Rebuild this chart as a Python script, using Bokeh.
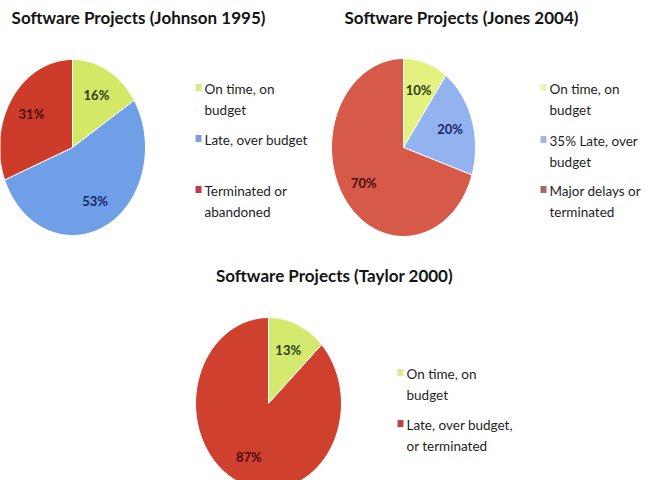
import numpy as np
from bokeh.plotting import figure
from bokeh.models import Range1d
from bokeh.core.properties import value
from bokeh.embed import file_html
from bokeh.resources import INLINE

W, H = 646, 480

# ---------------- data ----------------
titles = ["Software Projects (Johnson 1995)",
          "Software Projects (Jones 2004)",
          "Software Projects (Taylor 2000)"]

johnson_labels = ["On time, on budget", "Late, over budget", "Terminated or abandoned"]
johnson_values = [16, 53, 31]

jones_labels = ["On time, on budget", "35% Late, over budget", "Major delays or terminated"]
jones_values = [10, 20, 70]

taylor_labels = ["On time, on budget", "Late, over budget, or terminated"]
taylor_values = [13, 87]

# legend line wrapping (as in the picture)
johnson_legend_lines = [["On time, on", "budget"], ["Late, over budget"], ["Terminated or", "abandoned"]]
jones_legend_lines = [["On time, on", "budget"], ["35% Late, over", "budget"], ["Major delays or", "terminated"]]
taylor_legend_lines = [["On time, on", "budget"], ["Late, over budget,", "or terminated"]]

# ---------------- styles / layout ----------------
charts = [
    dict(values=johnson_values, lines=johnson_legend_lines, title=titles[0],
         cx=72, cy=147, rx=73, ry=88, title_x=138, title_y=17,
         colors=["#d3e867", "#6f9fe6", "#cd3b2b"],
         label_colors=["#2f3a0c", "#16256a", "#4a0d08"],
         leg_colors=["#d8e88a", "#7f9fd8", "#c2384a"],
         leg_x=204, leg_ys=[88, 139, 190]),
    dict(values=jones_values, lines=jones_legend_lines, title=titles[1],
         cx=403, cy=147, rx=72, ry=89, title_x=461, title_y=17,
         colors=["#e2f17f", "#92b3ef", "#d75a48"],
         label_colors=["#2f3a0c", "#16256a", "#4a0d08"],
         leg_colors=["#eef4b0", "#a8b4e0", "#a86868"],
         leg_x=549, leg_ys=[88, 140, 190]),
    dict(values=taylor_values, lines=taylor_legend_lines, title=titles[2],
         cx=268, cy=403, rx=73, ry=86, title_x=334, title_y=275,
         colors=["#d3ea6e", "#d0402f"],
         label_colors=["#2f3a0c", "#4a0d08"],
         leg_colors=["#dcea98", "#b84646"],
         leg_x=406, leg_ys=[373, 424]),
]

LINE_STEP = 21.5

p = figure(width=W, height=H, x_range=Range1d(0, W), y_range=Range1d(0, H),
           output_backend="svg", toolbar_location=None, min_border=0)
p.axis.visible = False
p.grid.visible = False
p.outline_line_color = None
p.background_fill_color = "white"
p.border_fill_color = "white"

def Y(py):
    return H - py

for c in charts:
    vals = np.array(c["values"], dtype=float)
    fr = vals / vals.sum()
    ends = np.cumsum(fr)
    starts = ends - fr
    xs, ys = [], []
    for s, e in zip(starts, ends):
        t = np.linspace(s, e, 80)
        ang = 2 * np.pi * t
        px = c["cx"] + c["rx"] * np.sin(ang)
        py = c["cy"] - c["ry"] * np.cos(ang)
        xs.append([c["cx"]] + list(px))
        ys.append([Y(c["cy"])] + list(Y(py)))
    p.patches(xs, ys, fill_color=c["colors"], line_color="white", line_width=1)

    # percentage labels
    mids = (starts + ends) / 2 * 2 * np.pi
    lx = c["cx"] + 0.68 * c["rx"] * np.sin(mids)
    ly = Y(c["cy"] - 0.68 * c["ry"] * np.cos(mids))
    p.text(lx, ly, text=[f"{int(v)}%" for v in c["values"]],
           text_color=c["label_colors"], text_font=value("Lato"),
           text_font_style="bold", text_font_size="13px",
           text_align="center", text_baseline="middle")

    # title
    p.text([c["title_x"]], [Y(c["title_y"])], text=[c["title"]],
           text_font=value("Lato"), text_font_style="bold", text_font_size="17px",
           text_color="#141414", text_align="center", text_baseline="middle")

    # legend
    tx, ty, mx, my = [], [], [], []
    for i, lines in enumerate(c["lines"]):
        y0 = c["leg_ys"][i]
        mx.append(c["leg_x"] - 6)
        my.append(Y(y0 - 1))
        for j, ln in enumerate(lines):
            tx.append(c["leg_x"])
            ty.append(Y(y0 + j * LINE_STEP))
    p.rect(mx, my, width=6, height=7, fill_color=c["leg_colors"], line_color=None)
    p.text(tx, ty, text=[ln for lines in c["lines"] for ln in lines],
           text_font=value("Lato"), text_font_size="13.5px", text_color="#1e1e1e",
           text_align="left", text_baseline="middle")

open("out.html", "w").write(file_html(p, INLINE))
